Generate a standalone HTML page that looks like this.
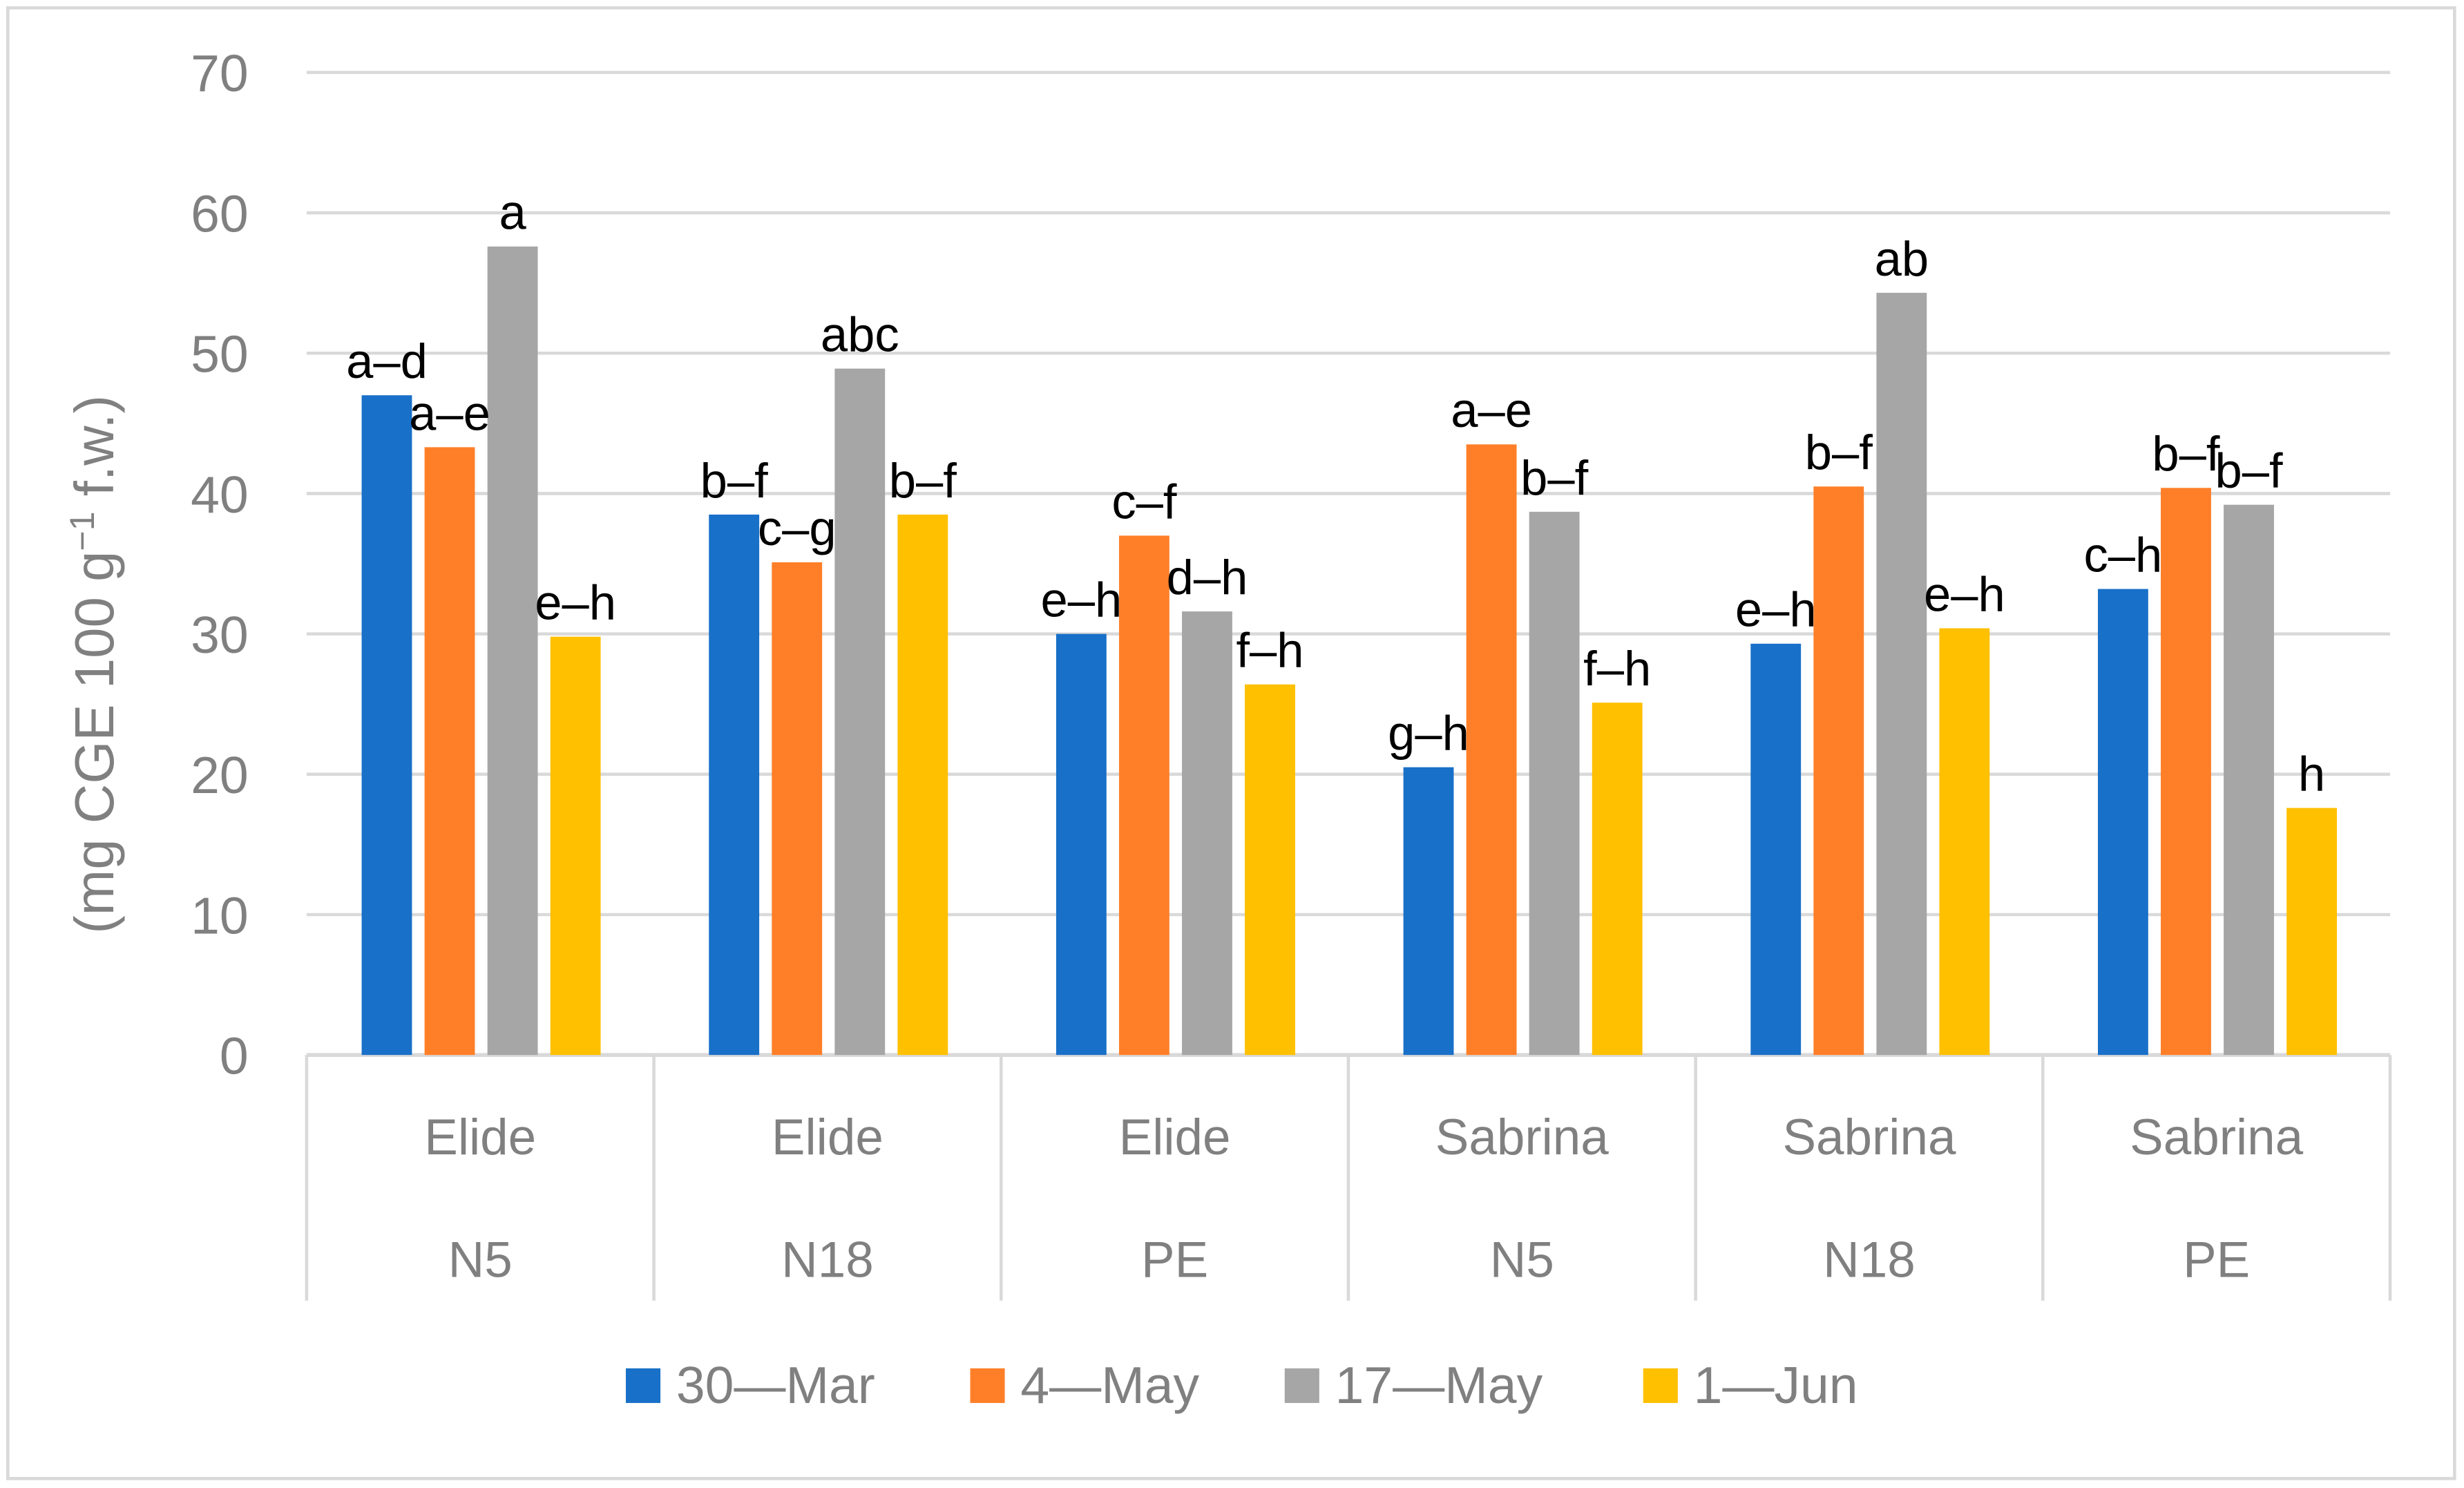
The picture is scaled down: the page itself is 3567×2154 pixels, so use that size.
<!DOCTYPE html>
<html><head><meta charset="utf-8"><style>
html,body{margin:0;padding:0;background:#fff}
svg{display:block}
</style></head><body>
<svg id="chart" width="3567" height="2154" viewBox="0 0 1567 945" preserveAspectRatio="none" xmlns="http://www.w3.org/2000/svg" font-family="'Liberation Sans', sans-serif">
<rect x="5" y="5" width="1556" height="934" fill="#fff" stroke="#d9d9d9" stroke-width="2"/>
<g id="grid"></g>
<g id="yticks"></g>
<text transform="translate(72,422) rotate(-90)" text-anchor="middle" font-size="35" fill="#808080">(mg CGE 100 g<tspan baseline-shift="super" font-size="22">−1</tspan> f.w.)</text>
<g id="cats"></g>
<g id="bars"></g>
<g id="labels"></g>
<g id="legend"></g>
</svg>
<script>
const varieties = ["Elide","Elide","Elide","Sabrina","Sabrina","Sabrina"];
const treatments = ["N5","N18","PE","N5","N18","PE"];
const seriesNames = ["30—Mar","4—May","17—May","1—Jun"];
const mar30 = [47.0, 38.5, 30.0, 20.5, 29.3, 33.2];
const may4 = [43.3, 35.1, 37.0, 43.5, 40.5, 40.4];
const may17 = [57.6, 48.9, 31.6, 38.7, 54.3, 39.2];
const jun1 = [29.8, 38.5, 26.4, 25.1, 30.4, 17.6];
const lblMar30 = ["a–d","b–f","e–h","g–h","e–h","c–h"];
const lblMay4 = ["a–e","c–g","c–f","a–e","b–f","b–f"];
const lblMay17 = ["a","abc","d–h","b–f","ab","b–f"];
const lblJun1 = ["e–h","b–f","f–h","f–h","e–h","h"];
const yTicks = [0,10,20,30,40,50,60,70];

const NS="http://www.w3.org/2000/svg";
const colors=["#1870c8","#fe7f28","#a6a6a6","#ffc000"];
const series=[mar30,may4,may17,jun1];
const labels=[lblMar30,lblMay4,lblMay17,lblJun1];
const x0=195,x1=1520,y0=670,yTop=46,yMax=70;
const gw=(x1-x0)/varieties.length;
const y=v=>y0-(v/yMax)*(y0-yTop);
const xBar=(g,s)=>x0+g*gw+35+s*40;
const bw=32;
function mk(t,a,p){const e=document.createElementNS(NS,t);for(const k in a)e.setAttribute(k,a[k]);p.appendChild(e);return e;}
const grid=document.getElementById('grid'),yt=document.getElementById('yticks');
yTicks.forEach(v=>{
  if(v>0){const l=mk('line',{x1:x0,x2:x1,y1:y(v),y2:y(v),stroke:'#d9d9d9','stroke-width':2},grid);
  
  }
  const t=mk('text',{x:158,y:y(v)+12,'text-anchor':'end','font-size':33,fill:'#808080'},yt);
  t.textContent=v;
  
  
});
const cats=document.getElementById('cats');
const ax=mk('line',{x1:x0,x2:x1,y1:y0,y2:y0,stroke:'#d9d9d9','stroke-width':2.5},cats);


for(let g=0;g<=varieties.length;g++){
  const l=mk('line',{x1:x0+g*gw,x2:x0+g*gw,y1:y0,y2:826,stroke:'#d9d9d9','stroke-width':2},cats);
  
  
}
varieties.forEach((c,g)=>{
  const cx=x0+g*gw+gw/2;
  const a=mk('text',{x:cx,y:733,'text-anchor':'middle','font-size':32,fill:'#808080'},cats);
  a.textContent=c;
  
  
  const b=mk('text',{x:cx,y:811,'text-anchor':'middle','font-size':32,fill:'#808080'},cats);
  b.textContent=treatments[g];
  
  
});
const bars=document.getElementById('bars'),lab=document.getElementById('labels');
series.forEach((s,si)=>{
  s.forEach((v,g)=>{
    const r=mk('rect',{x:xBar(g,si),y:y(v),width:bw,height:y0-y(v),fill:colors[si]},bars);
    
    
    const t=mk('text',{x:xBar(g,si)+bw/2,y:y(v)-11,'text-anchor':'middle','font-size':31,fill:'#000'},lab);
    t.textContent=labels[si][g];
    
    
  });
});
const leg=document.getElementById('legend');
const lx=[398,617,817,1045];
seriesNames.forEach((n,i)=>{
  const r=mk('rect',{x:lx[i],y:869,width:22,height:22,fill:colors[i]},leg);
  
  
  const t=mk('text',{x:lx[i]+32,y:891,'font-size':33,fill:'#808080'},leg);
  t.textContent=n;
  
  
});
</script>
</body></html>
